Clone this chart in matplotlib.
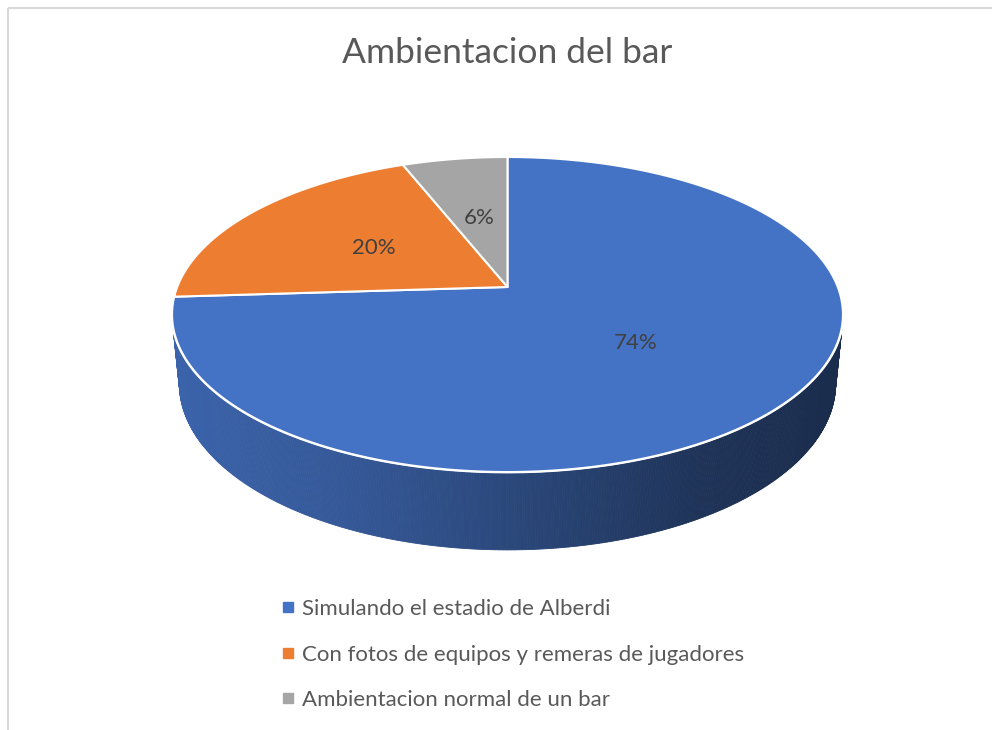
import numpy as np
import matplotlib
matplotlib.use("Agg")
import matplotlib.pyplot as plt
from matplotlib.lines import Line2D
from matplotlib.patches import Rectangle

# ---- data ----
title = "Ambientacion del bar"
categories = ["Simulando el estadio de Alberdi",
              "Con fotos de equipos y remeras de jugadores",
              "Ambientacion normal de un bar"]
values = [74, 20, 6]
labels = ["74%", "20%", "6%"]
colors = ["#4472C4", "#ED7D31", "#A5A5A5"]

# ---- figure ----
W, H = 992, 730
fig = plt.figure(figsize=(W / 100, H / 100), dpi=100)
ax = fig.add_axes([0, 0, 1, 1])
ax.set_xlim(0, W)
ax.set_ylim(H, 0)
ax.axis("off")
ax.add_patch(Rectangle((8, 8), W + 20, H + 20, fill=False,
                       edgecolor="#d9d9d9", lw=1.5))

# ---- 3D pie projection (perspective) ----
cx, cy = 507.5, 287.0
D, F = 5.076, 1676.6
se, ce = 0.4623, 0.8867
thick = 0.239


def proj(x, y, z):
    depth = D + y * ce - z * se
    up = y * se + z * ce
    return cx + F * x / depth, cy - F * up / depth


def rgb(c):
    c = c.lstrip("#")
    return np.array([int(c[i:i + 2], 16) for i in (0, 2, 4)]) / 255.0


fracs = np.array(values, dtype=float) / np.sum(values)
starts = 90 - 360 * np.concatenate([[0], np.cumsum(fracs)[:-1]])
ends = 90 - 360 * np.cumsum(fracs)


def slice_at(th):
    t = (90 - th) % 360
    acc = np.cumsum(fracs) * 360
    return int(np.searchsorted(acc, t))


# side (visible part only)
lim = np.degrees(np.arcsin(1.0 / (D * ce)))
ths = np.linspace(-180 + lim, -lim, 400)
shade_x = [180, 350, 510, 700, 840]
shade_f = [0.87, 0.77, 0.63, 0.45, 0.39]
for a0, a1 in zip(ths[:-1], ths[1:]):
    r0, r1 = np.radians(a0), np.radians(a1)
    pts = [proj(np.cos(r0), np.sin(r0), 0), proj(np.cos(r1), np.sin(r1), 0),
           proj(np.cos(r1), np.sin(r1), -thick), proj(np.cos(r0), np.sin(r0), -thick)]
    xs = [p[0] for p in pts]
    ys = [p[1] for p in pts]
    k = slice_at(0.5 * (a0 + a1))
    f = np.interp(np.mean(xs), shade_x, shade_f)
    col = np.clip(rgb(colors[k]) * f, 0, 1)
    ax.fill(xs, ys, color=col, lw=0.6, ec=col, zorder=2)

# white rim on front edge of top
rim = np.radians(np.linspace(-180 + lim, -lim, 300))
rx, ry = proj(np.cos(rim), np.sin(rim), 0)
ax.plot(rx, ry, color="white", lw=2.0, zorder=3)

# top faces
for s, e_, c in zip(starts, ends, colors):
    t = np.radians(np.linspace(s, e_, 200))
    px, py = proj(np.cos(t), np.sin(t), np.zeros_like(t))
    ox, oy = proj(0, 0, 0)
    xs = np.concatenate([[ox], px])
    ys = np.concatenate([[oy], py])
    ax.fill(xs, ys, color=c, ec="white", lw=1.5, zorder=4, joinstyle="round")

# labels
LABEL_R = 0.5
for s, e_, lab in zip(starts, ends, labels):
    m = np.radians(0.5 * (s + e_))
    lx, ly = proj(LABEL_R * np.cos(m), LABEL_R * np.sin(m), 0)
    ax.text(lx, ly, lab, ha="center", va="center", fontsize=16,
            color="#404040", family="Lato", zorder=5)

# title
ax.text(507, 53, title, ha="center", va="center", fontsize=25.5,
        color="#595959", family="Lato")

# legend
handles = [Line2D([], [], marker="s", ls="", color=c, markersize=6.5) for c in colors]
leg = ax.legend(handles, categories, loc="upper left",
                bbox_to_anchor=(281 / W, 1 - 599 / H), frameon=False,
                prop={"family": "Lato", "size": 16}, labelcolor="#595959",
                handlelength=0.6, handletextpad=0.36, labelspacing=1.15,
                borderaxespad=0, borderpad=0)

fig.savefig("out.png", dpi=100)
